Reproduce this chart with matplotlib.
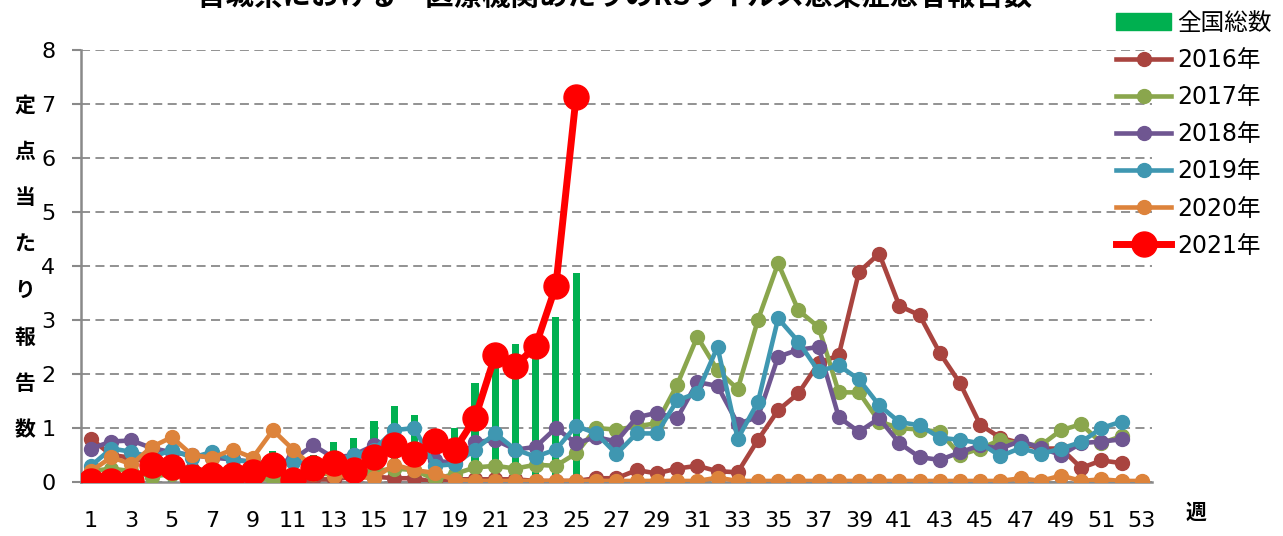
import matplotlib
matplotlib.use("Agg")
import matplotlib.pyplot as plt
from matplotlib.lines import Line2D
from matplotlib.patches import Patch
import numpy as np

# weekly reports per sentinel site
weeks = np.arange(1, 54)

national = [0.15, 0.15, 0.15, 0.15, 0.2, 0.2, 0.2, 0.25, 0.3, 0.58,
            0.4, 0.5, 0.74, 0.81, 1.13, 1.41, 1.24, 0.8, 1.0, 1.83,
            2.2, 2.55, 2.45, 3.06, 3.87]

y2016 = [0.8, 0.5, 0.45, 0.35, 0.3, 0.25, 0.2, 0.2, 0.15, 0.12,
         0.08, 0.05, 0.05, 0.1, 0.1, 0.07, 0.07, 0.0, 0.05, 0.05,
         0.05, 0.05, 0.02, 0.02, 0.02, 0.07, 0.07, 0.22, 0.16, 0.25,
         0.3, 0.2, 0.18, 0.78, 1.33, 1.64, 2.2, 2.35, 3.89, 4.23,
         3.26, 3.09, 2.39, 1.83, 1.06, 0.82, 0.72, 0.62, 0.62, 0.26,
         0.4, 0.35]

y2017 = [0.2, 0.25, 0.2, 0.1, 0.15, 0.15, 0.1, 0.1, 0.05, 0.05,
         0.1, 0.15, 0.15, 0.15, 0.2, 0.25, 0.22, 0.05, 0.15, 0.27,
         0.3, 0.25, 0.32, 0.3, 0.53, 1.0, 0.97, 1.03, 1.09, 1.8,
         2.69, 2.07, 1.72, 3.0, 4.05, 3.18, 2.87, 1.66, 1.66, 1.12,
         1.0, 0.97, 0.93, 0.5, 0.62, 0.78, 0.7, 0.68, 0.96, 1.07,
         0.72, 0.85]

y2018 = [0.62, 0.75, 0.77, 0.63, 0.55, 0.5, 0.45, 0.42, 0.37, 0.35,
         0.42, 0.68, 0.45, 0.5, 0.68, 0.7, 0.6, 0.4, 0.35, 0.74,
         0.78, 0.6, 0.65, 1.0, 0.72, 0.83, 0.75, 1.2, 1.28, 1.18,
         1.85, 1.78, 1.08, 1.2, 2.32, 2.45, 2.5, 1.2, 0.93, 1.18,
         0.72, 0.46, 0.41, 0.55, 0.68, 0.62, 0.76, 0.63, 0.5, 0.72,
         0.75, 0.79]

y2019 = [0.3, 0.62, 0.56, 0.45, 0.6, 0.45, 0.56, 0.4, 0.38, 0.3,
         0.37, 0.35, 0.38, 0.5, 0.6, 0.96, 1.0, 0.3, 0.33, 0.6,
         0.9, 0.6, 0.47, 0.6, 1.04, 0.9, 0.52, 0.9, 0.9, 1.51,
         1.65, 2.5, 0.8, 1.48, 3.03, 2.6, 2.05, 2.16, 1.9, 1.42,
         1.11, 1.05, 0.82, 0.78, 0.72, 0.48, 0.63, 0.52, 0.62, 0.74,
         1.0, 1.12]

y2020 = [0.2, 0.46, 0.33, 0.65, 0.83, 0.5, 0.45, 0.6, 0.45, 0.96,
         0.6, 0.27, 0.12, 0.1, 0.07, 0.32, 0.22, 0.17, 0.04, 0.02,
         0.02, 0.02, 0.02, 0.02, 0.02, 0.02, 0.02, 0.02, 0.02, 0.02,
         0.02, 0.08, 0.02, 0.02, 0.02, 0.02, 0.02, 0.02, 0.02, 0.02,
         0.02, 0.02, 0.02, 0.02, 0.02, 0.02, 0.07, 0.02, 0.12, 0.02,
         0.05, 0.02, 0.02]

y2021 = [0.02, 0.02, 0.02, 0.31, 0.28, 0.1, 0.13, 0.13, 0.19, 0.31,
         0.04, 0.26, 0.35, 0.22, 0.47, 0.68, 0.52, 0.76, 0.6, 1.18,
         2.35, 2.15, 2.52, 3.63, 7.13]

series = [
    ("2016年", y2016, "#A9443F"),
    ("2017年", y2017, "#8AA64D"),
    ("2018年", y2018, "#6F5691"),
    ("2019年", y2019, "#3F97B1"),
    ("2020年", y2020, "#DD833B"),
]

jp = ["DejaVu Sans", "Noto Sans CJK JP"]
grey = "#898989"

fig = plt.figure(figsize=(12.83, 5.36), dpi=100)
ax = fig.add_axes([0.0631, 0.1007, 0.8348, 0.806])

ax.bar(weeks[:len(national)], national, width=0.35, color="#00B050", zorder=2)

for label, vals, col in series:
    ax.plot(weeks[:len(vals)], vals, color=col, lw=3.3, marker="o",
            ms=10, zorder=3)
ax.plot(weeks[:len(y2021)], y2021, color="#FF0000", lw=5, marker="o",
        ms=18, zorder=4)

ax.set_xlim(0.5, 53.5)
ax.set_ylim(0, 8)
ax.set_xticks(range(1, 54, 2))
ax.set_yticks(range(0, 9))
ax.tick_params(axis="x", length=0, pad=21, labelsize=16)
ax.tick_params(axis="y", length=6.5, width=1.5, color=grey, pad=12,
               labelsize=16)
ax.yaxis.grid(True, color=grey, linestyle=(0, (5, 3)), linewidth=1.3)
ax.set_axisbelow(True)
for s in ["top", "right"]:
    ax.spines[s].set_visible(False)
for s in ["left", "bottom"]:
    ax.spines[s].set_color(grey)
    ax.spines[s].set_linewidth(1.8)

# title (cut off at the top, as in the original)
fig.text(0.479, 1 - 11 / 536, "宮城県における一医療機関あたりのRSウイルス感染症患者報告数",
         ha="center", va="bottom", fontsize=20.5, fontweight="bold",
         family=["Noto Sans CJK JP"])

# vertical y label, one character per row
ylab = "定点当たり報告数"
for i, ch in enumerate(ylab):
    fig.text(25 / 1283, 1 - (105 + i * 46.4) / 536, ch, ha="center",
             va="center", fontsize=15, fontweight="bold",
             family=["Noto Sans CJK JP"])

fig.text(1196 / 1283, 1 - 512 / 536, "週", ha="center", va="center",
         fontsize=15, fontweight="bold", family=["Noto Sans CJK JP"])

handles = [Patch(color="#00B050")]
labels = ["全国総数"]
for label, vals, col in series:
    handles.append(Line2D([], [], color=col, lw=3.3, marker="o", ms=10))
    labels.append(label)
handles.append(Line2D([], [], color="#FF0000", lw=5, marker="o", ms=18))
labels.append("2021年")

leg = fig.legend(handles, labels, loc="upper left",
                 bbox_to_anchor=(1116 / 1283, 1 - 11 / 536), frameon=False,
                 handlelength=2.35, handleheight=0.7, handletextpad=0.25,
                 labelspacing=0.555, borderaxespad=0, borderpad=0,
                 prop={"family": jp, "size": 17})

fig.savefig("out.png", dpi=100)
